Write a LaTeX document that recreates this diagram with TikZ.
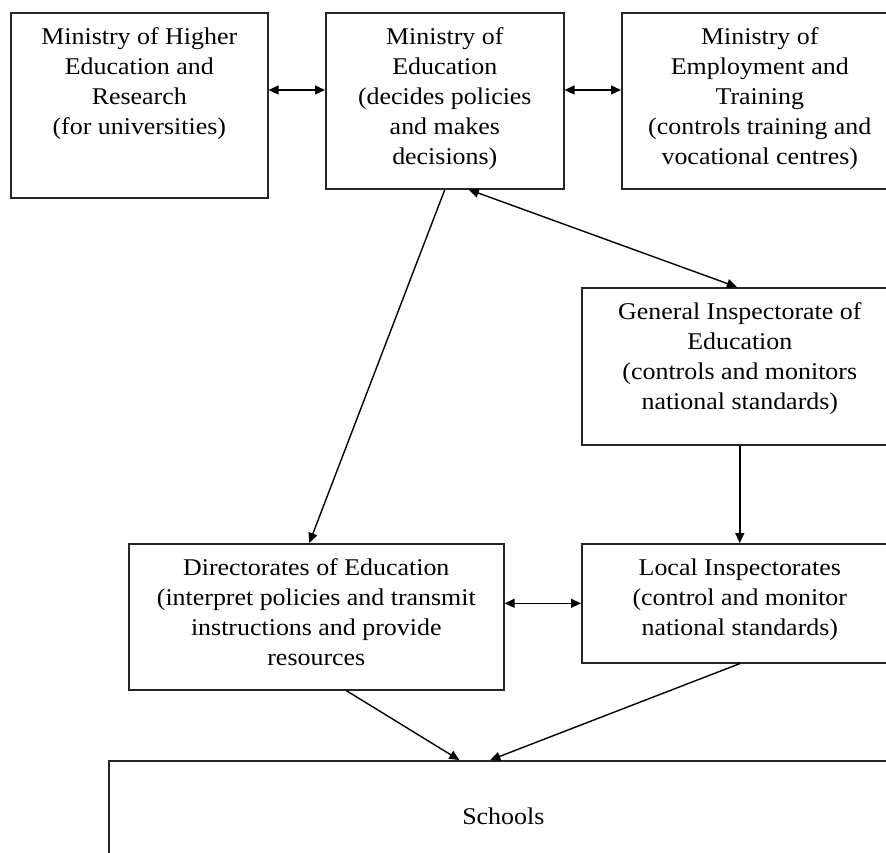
\documentclass[tikz,border=0pt]{standalone}
\usepackage{fontspec}
\setmainfont{Liberation Serif}[FakeStretch=1.08]
\usetikzlibrary{arrows.meta}
\newcommand{\boxtext}[3]{\parbox[c][#2][t]{#1}{\vspace*{15pt}\centering #3\par}}
\begin{document}
\begin{tikzpicture}[x=1pt,y=-1pt,
  box/.style={draw=black!85, line width=1.6pt, inner sep=0pt, anchor=north west, font=\fontsize{24}{30}\selectfont},
  arr/.style={-{Triangle[length=10pt,width=9pt]}, line width=1.4pt},
  darr/.style={{Triangle[length=10pt,width=9pt]}-{Triangle[length=10pt,width=9pt]}, line width=1.4pt}]
\useasboundingbox (0,0) rectangle (886,852);
\node[box] (b1) at (10,12) {\boxtext{257pt}{185pt}{Ministry of Higher\\Education and\\Research\\(for universities)}};
\node[box] (b2) at (325,12) {\boxtext{238pt}{176pt}{Ministry of\\Education\\(decides policies\\and makes\\decisions)}};
\node[box] (b3) at (621,12) {\boxtext{276pt}{176pt}{Ministry of\\Employment and\\Training\\(controls training and\\vocational centres)}};
\node[box] (b4) at (581,287) {\boxtext{316pt}{157pt}{General Inspectorate of\\Education\\(controls and monitors\\national standards)}};
\node[box] (b5) at (128,543) {\boxtext{375pt}{146pt}{Directorates of Education\\(interpret policies and transmit\\instructions and provide\\resources}};
\node[box] (b6) at (581,543) {\boxtext{316pt}{119pt}{Local Inspectorates\\(control and monitor\\national standards)}};
\node[box, minimum width=789pt, minimum height=110pt] (sc) at (108,760) {Schools};
\draw[darr] ([yshift=-78pt]b1.north east) -- ([yshift=-78pt]b2.north west);
\draw[darr] ([yshift=-78pt]b2.north east) -- ([yshift=-78pt]b3.north west);
\draw[arr] (b2.south) -- ([xshift=-7pt]b5.north);
\draw[darr] ([xshift=24pt]b2.south) -- ([xshift=-3pt]b4.north);
\draw[arr] (b4.south) -- (b6.north);
\draw[darr] (b6.west -| b5.east) -- (b6.west);
\draw[arr] ([xshift=30pt]b5.south) -- ([xshift=-44pt]sc.north);
\draw[arr] (b6.south) -- ([xshift=-13pt]sc.north);
\end{tikzpicture}
\end{document}
